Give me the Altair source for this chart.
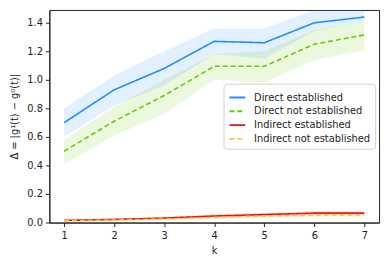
import altair as alt
import pandas as pd

k = [1, 2, 3, 4, 5, 6, 7]
series_names = ["Direct established", "Direct not established",
                "Indirect established", "Indirect not established"]
colors = ["#1f8cff", "#66cc00", "#e01818", "#ffc23d"]
dashes = [[1, 0], [5, 3], [1, 0], [5, 3]]

de_mean = [0.70, 0.93, 1.08, 1.27, 1.26, 1.40, 1.44]
de_lo = [0.60, 0.82, 0.96, 1.18, 1.15, 1.34, 1.41]
de_hi = [0.80, 1.03, 1.20, 1.36, 1.36, 1.52, 1.55]

dn_mean = [0.50, 0.71, 0.89, 1.095, 1.095, 1.25, 1.315]
dn_lo = [0.41, 0.61, 0.76, 1.00, 0.98, 1.14, 1.21]
dn_hi = [0.58, 0.81, 1.00, 1.18, 1.20, 1.35, 1.41]

ie_mean = [0.015, 0.022, 0.031, 0.046, 0.056, 0.066, 0.066]
ie_lo = [0.010, 0.015, 0.022, 0.034, 0.043, 0.052, 0.052]
ie_hi = [0.020, 0.029, 0.040, 0.058, 0.069, 0.080, 0.080]

in_mean = [0.012, 0.018, 0.025, 0.036, 0.045, 0.051, 0.051]
in_lo = [0.008, 0.012, 0.018, 0.027, 0.035, 0.040, 0.040]
in_hi = [0.016, 0.024, 0.032, 0.045, 0.055, 0.062, 0.062]

y_ticks = [0.0, 0.2, 0.4, 0.6, 0.8, 1.0, 1.2, 1.4]

rows = []
for name, m, lo, hi in zip(series_names,
                           [de_mean, dn_mean, ie_mean, in_mean],
                           [de_lo, dn_lo, ie_lo, in_lo],
                           [de_hi, dn_hi, ie_hi, in_hi]):
    for kk, mm, l, h in zip(k, m, lo, hi):
        rows.append({"series": name, "band": name, "k": kk,
                     "mean": mm, "lo": l, "hi": h})
df = pd.DataFrame(rows)

xs = alt.Scale(domain=[0.705, 7.295], nice=False, zero=False)
ys = alt.Scale(domain=[0, 1.49], nice=False, clamp=True)
cs = alt.Scale(domain=series_names, range=colors)
ds = alt.Scale(domain=series_names, range=dashes)

x_axis = alt.Axis(title="k", values=k, format="d", grid=False,
                  tickSize=4, labelPadding=4, titlePadding=5)
y_axis = alt.Axis(title="Δ = |g¹(t) − g⁰(t)|", values=y_ticks,
                  labelOverlap=False, format=".1f", grid=False, tickSize=4,
                  labelPadding=3, titlePadding=7)

leg = alt.Legend(orient="none", legendX=177, legendY=75,
                 symbolType="stroke", symbolSize=256,
                 symbolStrokeWidth=2, labelFontSize=10, labelOffset=8,
                 rowPadding=0, padding=5,
                 fillColor="white", strokeColor="#d0d0d0",
                 cornerRadius=3, labelLimit=300)

bands = alt.Chart(df).mark_area(opacity=0.13, clip=True).encode(
    x=alt.X("k:Q", scale=xs, axis=x_axis, title="k"),
    y=alt.Y("lo:Q", scale=ys, axis=y_axis, title="Δ = |g¹(t) − g⁰(t)|"),
    y2="hi:Q",
    fill=alt.Fill("band:N", scale=cs, legend=None),
    detail="band:N",
)

lines = alt.Chart(df).mark_line(strokeWidth=1.6, clip=True).encode(
    x=alt.X("k:Q", scale=xs, axis=x_axis, title="k"),
    y=alt.Y("mean:Q", scale=ys, axis=y_axis, title="Δ = |g¹(t) − g⁰(t)|"),
    color=alt.Color("series:N", scale=cs, title=None, legend=leg),
    strokeDash=alt.StrokeDash("series:N", scale=ds, title=None, legend=leg),
)

chart = alt.layer(bands, lines).resolve_scale(fill="independent").properties(
    width=335, height=216,
    autosize=alt.AutoSizeParams(type="none"),
    padding={"left": 42, "right": 5, "top": 0, "bottom": 32},
).configure(
    font="DejaVu Sans",
).configure_view(
    stroke="#222222", strokeWidth=1,
).configure_axis(
    domainColor="#222222", tickColor="#222222", labelColor="#222222",
    titleColor="#222222", labelFontSize=10, titleFontSize=10,
    titleFontWeight="normal", labelFont="DejaVu Sans", titleFont="DejaVu Sans",
).configure_legend(
    labelColor="#222222", labelFont="DejaVu Sans",
)

chart.save("out.html", embed_options={"renderer": "svg", "actions": False})
